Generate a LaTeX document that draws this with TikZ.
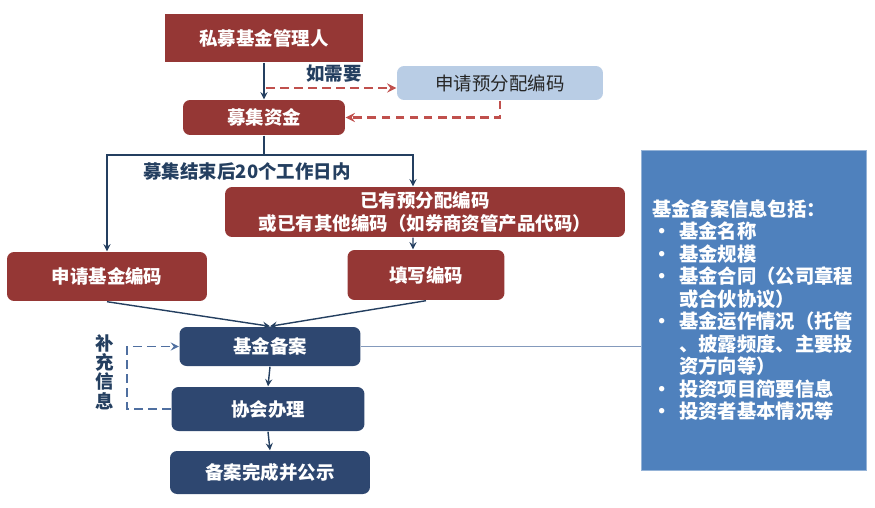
\documentclass[tikz,border=0pt]{standalone}
\usepackage{fontspec}
\setmainfont{Noto Sans CJK SC}
\usetikzlibrary{positioning}
\definecolor{boxred}{HTML}{953735}
\definecolor{boxnavy}{HTML}{2E4770}
\definecolor{boxpale}{HTML}{B9CDE5}
\definecolor{infoblue}{HTML}{4F81BD}
\definecolor{linknavy}{HTML}{243F60}
\definecolor{dashred}{HTML}{C0504D}
\definecolor{backblue}{HTML}{4F6FA0}
\newcommand{\itm}{\makebox[1.4em][l]{•}}
\newcommand{\cont}{\hspace*{1.4em}}
\begin{document}
\begin{tikzpicture}[x=0.02cm, y=-0.02cm, >=stealth, thick,
        redbox/.style={rectangle, rounded corners=4pt, fill=boxred, text=white, inner sep=0pt,
            align=center, font=\bfseries\fontsize{10.5}{12.6}\selectfont},
        navybox/.style={rectangle, rounded corners=4pt, fill=boxnavy, text=white, inner sep=0pt,
            align=center, font=\bfseries\fontsize{10.5}{12.6}\selectfont},
        link/.style={->, linknavy, thick},
        dashlink/.style={->, line width=1.3pt, dash pattern=on 5pt off 3pt},
        note/.style={text=linknavy, font=\bfseries\fontsize{10.5}{11}\selectfont, inner sep=0pt}
    ]
    \useasboundingbox (0,0) rectangle (875,507);

    % Manager and fund raising
    \node[redbox, rounded corners=0pt, minimum width=3.96cm, minimum height=0.96cm] (mgr) at (264,38) {私募基金管理人};
    \node[rectangle, rounded corners=4pt, fill=boxpale, text=black!85, minimum width=4.12cm, minimum height=0.68cm,
        font=\fontsize{10.5}{12.6}\selectfont] (pre) at (500,83) {申请预分配编码};
    \node[redbox, minimum width=3.24cm, minimum height=0.70cm] (raise) at (264,117.5) {募集资金};
    \draw[link] (mgr.south) -- (raise.north);
    \node[note] (need) at (334,74) {如需要};
    \coordinate (ask) at (266,88);
    \draw[dashlink, dashred] (ask) -- (ask -| pre.west);
    \draw[dashlink, dashred] (pre.south) |- (raise.east);

    % Coding branches
    \node[redbox, minimum width=8.0cm, minimum height=1.0cm] (have) at (425,212) {已有预分配编码\\或已有其他编码（如券商资管产品代码）};
    \node[redbox, minimum width=4.0cm, minimum height=0.98cm] (apply) at (107,276.5) {申请基金编码};
    \node[redbox, minimum width=3.14cm, minimum height=1.0cm] (fill) at (426,275) {填写编码};
    \coordinate (split) at (264,155);
    \draw[linknavy] (raise.south) -- (split);
    \draw[link] (split) -| (apply.north);
    \draw[link] (split) -| ([xshift=-0.24cm]have.north);
    \draw[link] ([xshift=-0.24cm]have.south) -- ([xshift=-0.26cm]fill.north);
    \node[note] (days) at (247,171) {募集结束后20个工作日内};

    % Filing
    \node[navybox, minimum width=3.62cm, minimum height=0.78cm] (rec) at (270,346.5) {基金备案};
    \node[navybox, minimum width=3.86cm, minimum height=0.88cm] (assoc) at (268,409) {协会办理};
    \node[navybox, minimum width=4.0cm, minimum height=0.86cm] (done) at (270,472.5) {备案完成并公示};
    \draw[link] (apply.south) -- (rec.north);
    \draw[link] (fill.south) -- (rec.north);
    \draw[link] (rec.south) -- (assoc.north);
    \draw[link] (assoc.south) -- (done.north);
    \draw[dashlink, backblue, line width=1pt] (assoc.west) -- ++(-44,0) |- (rec.west);
    \node[note, align=center] (more) at (105,372) {补\\充\\信\\息};

    % Filing details
    \node[rectangle, fill=infoblue, draw=infoblue!60, thin, text=white, inner sep=0.22cm,
        text width=4.06cm, minimum height=6.4cm, align=left,
        font=\bfseries\fontsize{11}{12.8}\selectfont] (info) at (753.5,310)
        {基金备案信息包括：\\
         \itm 基金名称\\
         \itm 基金规模\\
         \itm 基金合同（公司章程\\
         \cont 或合伙协议）\\
         \itm 基金运作情况（托管\\
         \cont 、披露频度、主要投\\
         \cont 资方向等）\\
         \itm 投资项目简要信息\\
         \itm 投资者基本情况等};
    \draw[thin, backblue!70] (rec.east) -- (rec.east -| info.west);
\end{tikzpicture}
\end{document}
